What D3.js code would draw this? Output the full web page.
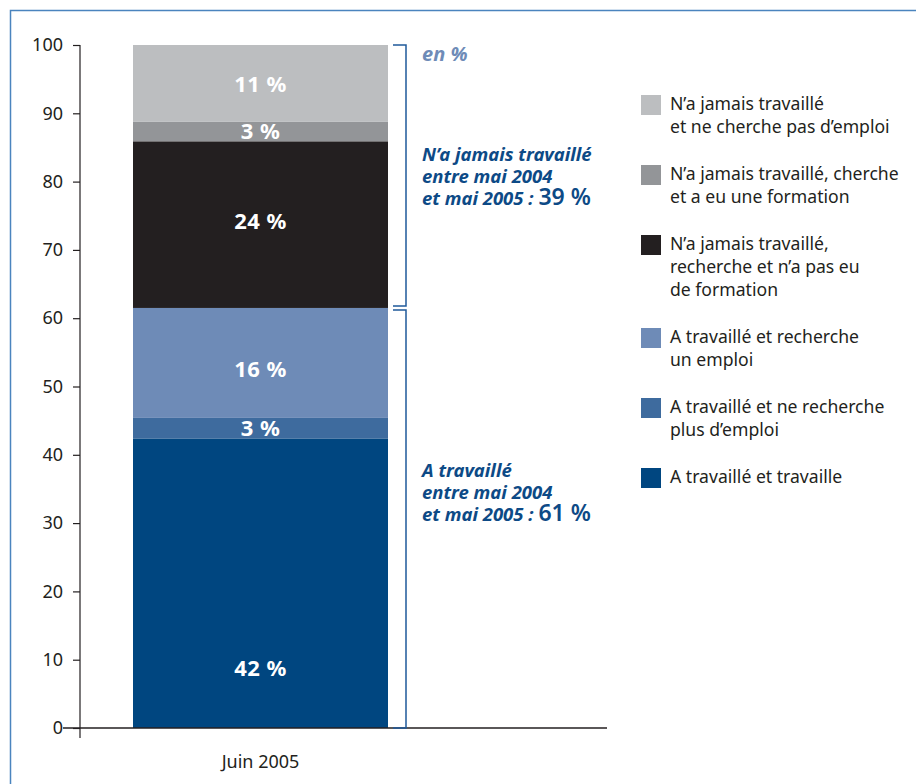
<!DOCTYPE html>
<html><head><meta charset="utf-8">
<script src="https://cdn.jsdelivr.net/npm/d3@7"></script>
<style>
body{margin:0;background:#fff;}
svg{display:block;font-family:"Noto Sans","Open Sans",sans-serif;}
</style></head>
<body><svg id="c" width="916" height="784"></svg>
<script>
const categories = ["Juin 2005"];
const seriesNames = [
  "A travaillé et travaille",
  "A travaillé et ne recherche plus d’emploi",
  "A travaillé et recherche un emploi",
  "N’a jamais travaillé, recherche et n’a pas eu de formation",
  "N’a jamais travaillé, cherche et a eu une formation",
  "N’a jamais travaillé et ne cherche pas d’emploi"
];
const seriesValues = [42.4, 3.0, 16.1, 24.4, 2.9, 11.2];
const seriesLabels = ["42 %", "3 %", "16 %", "24 %", "3 %", "11 %"];
const seriesColors = ["#004680", "#3e6b9e", "#6e8bb7", "#231f20", "#939598", "#bcbec0"];
const legendLines = [
  ["N’a jamais travaillé", "et ne cherche pas d’emploi"],
  ["N’a jamais travaillé, cherche", "et a eu une formation"],
  ["N’a jamais travaillé,", "recherche et n’a pas eu", "de formation"],
  ["A travaillé et recherche", "un emploi"],
  ["A travaillé et ne recherche", "plus d’emploi"],
  ["A travaillé et travaille"]
];
const legendColorIdx = [5, 4, 3, 2, 1, 0];
const yTicks = [0, 10, 20, 30, 40, 50, 60, 70, 80, 90, 100];
const groups = [
  {from: 3, to: 5, lines: ["N’a jamais travaillé", "entre mai 2004", "et mai 2005 : "], value: "39 %"},
  {from: 0, to: 2, lines: ["A travaillé", "entre mai 2004", "et mai 2005 : "], value: "61 %"}
];
const unitLabel = "en %";

const svg = d3.select("#c");
const dark = "#231f20";
const blueTxt = "#0d4a86";

// frame
svg.append("rect").attr("x", 10.5).attr("y", 10.5).attr("width", 1000).attr("height", 1000)
  .attr("fill", "none").attr("stroke", "#4a84be").attr("stroke-width", 1.5);

const y = d3.scaleLinear().domain([0, 100]).range([728, 45]);
const x = d3.scaleBand().domain(categories).range([133, 388]).padding(0);

// stacked
let cum = 0;
const stack = seriesValues.map((v, i) => { const s = {i, y0: cum, y1: cum + v}; cum += v; return s; });

const g = svg.append("g");
g.selectAll("rect.seg").data(stack).join("rect").attr("class", "seg")
  .attr("x", x(categories[0])).attr("width", x.bandwidth())
  .attr("y", d => y(d.y1)).attr("height", d => y(d.y0) - y(d.y1))
  .attr("fill", d => seriesColors[d.i]);

// label vertical placement (layout: bottom label sits low in its segment)
const labelShift = [85, 0, 6, -4, 0, 1];
g.selectAll("text.lab").data(stack).join("text").attr("class", "lab")
  .attr("x", x(categories[0]) + x.bandwidth() / 2)
  .attr("y", d => (y(d.y0) + y(d.y1)) / 2 + labelShift[d.i])
  .attr("dy", "0.36em").attr("text-anchor", "middle")
  .attr("fill", "#fff").attr("font-weight", "bold").attr("font-size", 22)
  .attr("letter-spacing", 0.5)
  .text(d => seriesLabels[d.i]);

// y axis
const yAxis = d3.axisLeft(y).tickValues(yTicks).tickSize(7).tickSizeOuter(0).tickPadding(10);
const ya = svg.append("g").attr("transform", "translate(80,0)").call(yAxis);
ya.select(".domain").remove();
ya.selectAll(".tick line").attr("stroke", dark).attr("stroke-width", 1.2);
ya.selectAll(".tick text").attr("fill", dark).attr("font-size", 18).attr("font-family", "Noto Sans");
svg.append("line").attr("x1", 80).attr("x2", 80).attr("y1", y(100)).attr("y2", y(0) + 10)
  .attr("stroke", dark).attr("stroke-width", 1.2);
// x axis line
svg.append("line").attr("x1", 63).attr("x2", 607).attr("y1", y(0)).attr("y2", y(0))
  .attr("stroke", dark).attr("stroke-width", 1.5);
svg.append("text").attr("x", x(categories[0]) + x.bandwidth() / 2).attr("y", 768)
  .attr("text-anchor", "middle").attr("font-size", 18).attr("fill", dark).text(categories[0]);

// brackets
const cumAt = k => stack[k];
groups.forEach((gr, gi) => {
  const top = y(cumAt(gr.to).y1) + (gi === 1 ? 2 : 0);
  const bot = y(cumAt(gr.from).y0) - (gi === 0 ? 2 : 0);
  svg.append("path").attr("d", `M393,${top}H406V${bot}H393`)
    .attr("fill", "none").attr("stroke", "#1f5a9a").attr("stroke-width", 1.5);
});
// unit label
svg.append("text").attr("x", 422).attr("y", 61).attr("font-size", 20).attr("font-style", "italic")
  .attr("font-weight", "bold").attr("fill", "#6e8bb7").text(unitLabel);

const groupBase = [161, 477];
groups.forEach((gr, gi) => {
  gr.lines.forEach((ln, li) => {
    const t = svg.append("text").attr("x", 422).attr("y", groupBase[gi] + li * 22)
      .attr("font-size", 18.5).attr("font-style", "italic").attr("font-weight", "bold")
      .attr("fill", blueTxt).text(ln);
    if (li === gr.lines.length - 1) {
      t.append("tspan").attr("font-style", "normal").attr("font-weight", 600)
        .attr("font-size", 23).text(gr.value);
    }
  });
});

// legend
let ly = 104;
legendLines.forEach((lines, k) => {
  svg.append("rect").attr("x", 641).attr("y", ly - 9).attr("width", 20).attr("height", 20)
    .attr("fill", seriesColors[legendColorIdx[k]]);
  lines.forEach((ln, li) => {
    svg.append("text").attr("x", 670).attr("y", ly + li * 23).attr("dy", "0.35em")
      .attr("font-size", 17.6).attr("fill", dark).text(ln);
  });
  ly += lines.length * 23 + 24;
});
</script></body></html>
